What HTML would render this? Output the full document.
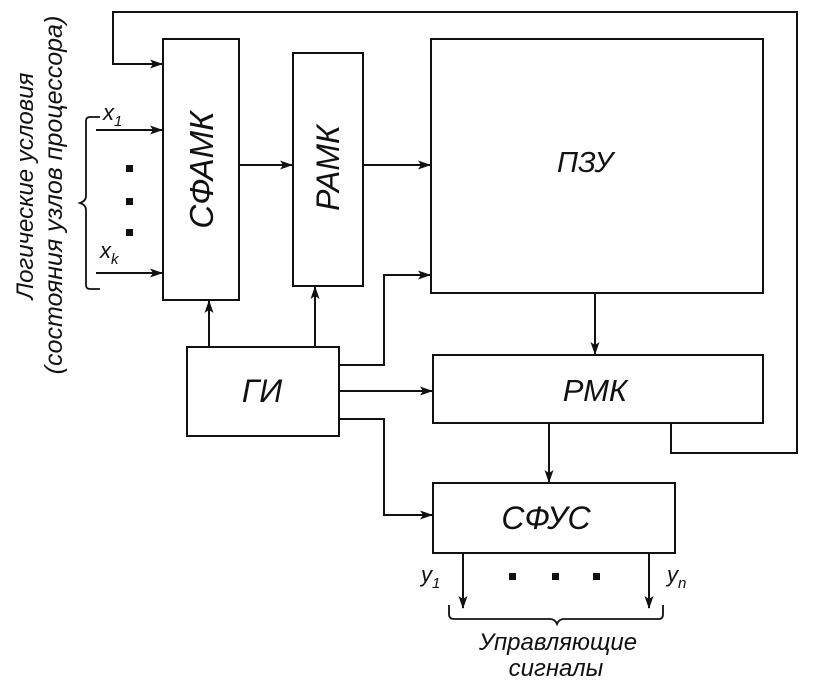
<!DOCTYPE html>
<html><head><meta charset="utf-8"><style>
html,body{margin:0;padding:0;background:#fff;}
svg{display:block;}
text{font-family:"Liberation Sans","DejaVu Sans",sans-serif;font-style:italic;fill:#111;}
</style></head><body>
<svg width="820" height="694" viewBox="0 0 820 694" xmlns="http://www.w3.org/2000/svg">
<defs>
<marker id="a" markerWidth="13" markerHeight="9" refX="12" refY="4.5" orient="auto" markerUnits="userSpaceOnUse">
<path d="M0,0 L13,4.5 L0,9 L3,4.5 Z" fill="#111"/>
</marker>
</defs>
<g stroke="#111" stroke-width="2" fill="none">
<rect x="163" y="39" width="76" height="261"/>
<rect x="293" y="53" width="70" height="233"/>
<rect x="431" y="39" width="332" height="254"/>
<rect x="187" y="347" width="152" height="89"/>
<rect x="433" y="355" width="330" height="68"/>
<rect x="433" y="483" width="242" height="70"/>
<path d="M671,423 V453 H797 V12 H113 V64 H162" marker-end="url(#a)"/>
<path d="M96,130 H162" marker-end="url(#a)"/>
<path d="M96,273 H162" marker-end="url(#a)"/>
<path d="M239,165 H292" marker-end="url(#a)"/>
<path d="M363,165 H430" marker-end="url(#a)"/>
<path d="M209,347 V301" marker-end="url(#a)"/>
<path d="M315,347 V287" marker-end="url(#a)"/>
<path d="M339,365 H384 V275 H430" marker-end="url(#a)"/>
<path d="M339,391 H432" marker-end="url(#a)"/>
<path d="M339,419 H384 V515 H432" marker-end="url(#a)"/>
<path d="M595,293 V354" marker-end="url(#a)"/>
<path d="M549,423 V482" marker-end="url(#a)"/>
<path d="M463,553 V608" marker-end="url(#a)"/>
<path d="M649,553 V608" marker-end="url(#a)"/>
<path d="M100,117 H90 Q86,117 86,121 V196 Q86,201 80,203 Q86,205 86,210 V285 Q86,289 90,289 H100" stroke-width="1.8"/>
<path d="M449,605 V614 Q449,619 454,619 H550 Q555,619 557,624 Q559,619 564,619 H659 Q663,619 663,614 V605" stroke-width="1.8"/>
</g>
<g fill="#111">
<rect x="126" y="165" width="7" height="7"/>
<rect x="126" y="198" width="7" height="7"/>
<rect x="126" y="229" width="7" height="7"/>
<rect x="509" y="573" width="7" height="7"/>
<rect x="552" y="573" width="7" height="7"/>
<rect x="593" y="573" width="7" height="7"/>
</g>
<text x="0" y="0" font-size="33" text-anchor="middle" transform="translate(213,170) rotate(-90)">СФАМК</text>
<text x="0" y="0" font-size="32" text-anchor="middle" transform="translate(339,168) rotate(-90)">РАМК</text>
<text x="585" y="172" font-size="29" text-anchor="middle">ПЗУ</text>
<text x="262" y="402" font-size="32" text-anchor="middle">ГИ</text>
<text x="595" y="401" font-size="31" text-anchor="middle">РМК</text>
<text x="546" y="529" font-size="32" text-anchor="middle">СФУС</text>
<text x="103" y="120" font-size="22">x<tspan font-size="15" dy="6">1</tspan></text>
<text x="100" y="258" font-size="22">x<tspan font-size="15" dy="6">k</tspan></text>
<text x="421" y="582" font-size="22">y<tspan font-size="15" dy="6">1</tspan></text>
<text x="667" y="582" font-size="22">y<tspan font-size="15" dy="6">n</tspan></text>
<text x="558" y="650" font-size="24" text-anchor="middle">Управляющие</text>
<text x="556" y="676" font-size="24" text-anchor="middle">сигналы</text>
<text x="0" y="0" font-size="24" text-anchor="middle" transform="translate(33,186) rotate(-90)">Логические условия</text>
<text x="0" y="0" font-size="25" text-anchor="middle" transform="translate(62,195) rotate(-90)">(состояния узлов процессора)</text>
</svg>
</body></html>
